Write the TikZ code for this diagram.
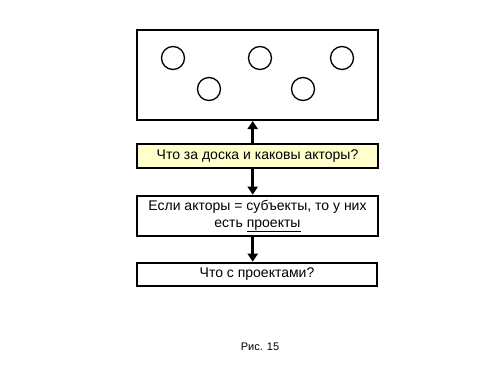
\documentclass[tikz,border=0pt]{standalone}
\usepackage{fontspec}
\setmainfont{Liberation Sans}
\usetikzlibrary{arrows.meta}
\definecolor{qyellow}{RGB}{255,255,204}
\tikzset{
  box/.style={draw=black, line width=2pt, inner sep=0pt, align=center, font=\fontsize{14}{17}\selectfont},
  dot/.style={draw=black, line width=1.3pt, circle, minimum size=23pt, inner sep=0pt},
  conn/.style={line width=2.6pt, -{Triangle[length=8pt,width=10pt]}}
}
\begin{document}
\begin{tikzpicture}[x=1pt,y=-1pt]
\useasboundingbox (0,0) rectangle (500,375);
\node[box, minimum width=241pt, minimum height=90pt] (board) at (257.5,75) {};
\node[dot] (c1) at (173,58) {};
\node[dot] (c2) at (260,58) {};
\node[dot] (c3) at (342,58) {};
\node[dot] (c4) at (209,89) {};
\node[dot] (c5) at (303,89) {};
\node[box, fill=qyellow, minimum width=241pt, minimum height=24pt] (q1) at (257.5,156.3) {Что за доска и каковы акторы?};
\node[box, minimum width=241pt, minimum height=40pt, text depth=4pt] (q2) at (257.5,215.7) {Если акторы = субъекты, то у них\\есть \underline{проекты}};
\node[box, minimum width=240pt, minimum height=23pt] (q3) at (257,274.2) {Что с проектами?};
\node[font=\fontsize{11}{13}\selectfont] (cap) at (260,347) {Рис. 15};
\draw[conn] (q1.north -| 252.7,0) -- (board.south -| 252.7,0);
\draw[conn] (q1.south -| 252.7,0) -- (q2.north -| 252.7,0);
\draw[conn] (q2.south -| 252.7,0) -- (q3.north -| 252.7,0);
\end{tikzpicture}
\end{document}
